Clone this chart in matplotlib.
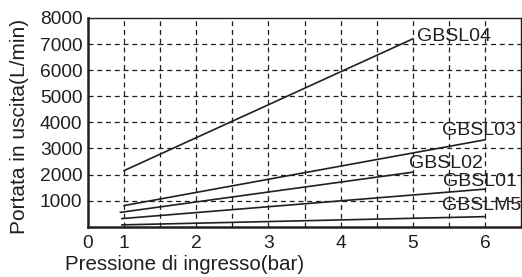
import matplotlib.pyplot as plt
import numpy as np

# data
models = ['GBSL04', 'GBSL03', 'GBSL02', 'GBSL01', 'GBSLM5']
x_start = [1.0, 1.0, 0.95, 0.97, 0.97]
x_end = [5.0, 6.0, 5.0, 6.0, 6.0]
flow_start = [2150, 810, 550, 310, 70]
flow_end = [7200, 3330, 2090, 1440, 385]
label_x = [5.06, 5.41, 4.95, 5.42, 5.41]
label_y = [7300, 3680, 2440, 1730, 800]

xtick_pos = [0.5, 1, 2, 3, 4, 5, 6]
xtick_labels = ['0', '1', '2', '3', '4', '5', '6']
ytick_pos = [1000, 2000, 3000, 4000, 5000, 6000, 7000, 8000]

ink = '#231f20'
plt.rcParams['font.family'] = ['Liberation Sans', 'DejaVu Sans']

fig = plt.figure(figsize=(5.22, 2.77), dpi=100, facecolor='white')
ax = fig.add_axes([88 / 522, 1 - 226.7 / 277, 433 / 522, 208.7 / 277])

# dashed grid at every half bar and every 1000 L/min
for gx in np.arange(1, 6.01, 0.5):
    ax.axvline(gx, color=ink, lw=0.9, ls=(0, (4, 3)), zorder=1)
for gy in ytick_pos[:-1]:
    ax.axhline(gy, color=ink, lw=0.9, ls=(0, (4, 3)), zorder=1)

for name, xs, xe, ys, ye, lx, ly in zip(models, x_start, x_end, flow_start,
                                        flow_end, label_x, label_y):
    ax.plot([xs, xe], [ys, ye], color=ink, lw=1.2, zorder=3)
    ax.text(lx, ly, name, fontsize=14, color=ink, va='center', ha='left',
            zorder=4)

ax.set_xlim(0.5, 6.5)
ax.set_ylim(0, 8000)
ax.set_xticks(xtick_pos)
ax.set_xticklabels(xtick_labels)
ax.set_yticks(ytick_pos)
ax.tick_params(length=0, labelsize=13.8, colors=ink)
ax.tick_params(axis='x', pad=6)
ax.tick_params(axis='y', pad=4)

for side in ['top', 'right']:
    ax.spines[side].set_linewidth(1.0)
    ax.spines[side].set_color(ink)
for side in ['left', 'bottom']:
    ax.spines[side].set_linewidth(1.8)
    ax.spines[side].set_color(ink)

ax.set_xlabel('Pressione di ingresso(bar)', fontsize=14.8, color=ink)
ax.xaxis.set_label_coords(-0.053, (226.7 - 265) / 208.7)
ax.xaxis.label.set_ha('left')
ax.xaxis.label.set_va('center')
ax.set_ylabel('Portata in uscita(L/min)', fontsize=15, color=ink)
ax.yaxis.set_label_coords((20 - 88) / 433, 0.48)
ax.yaxis.label.set_va('center')

fig.savefig('out.png', dpi=100)
plt.close(fig)
